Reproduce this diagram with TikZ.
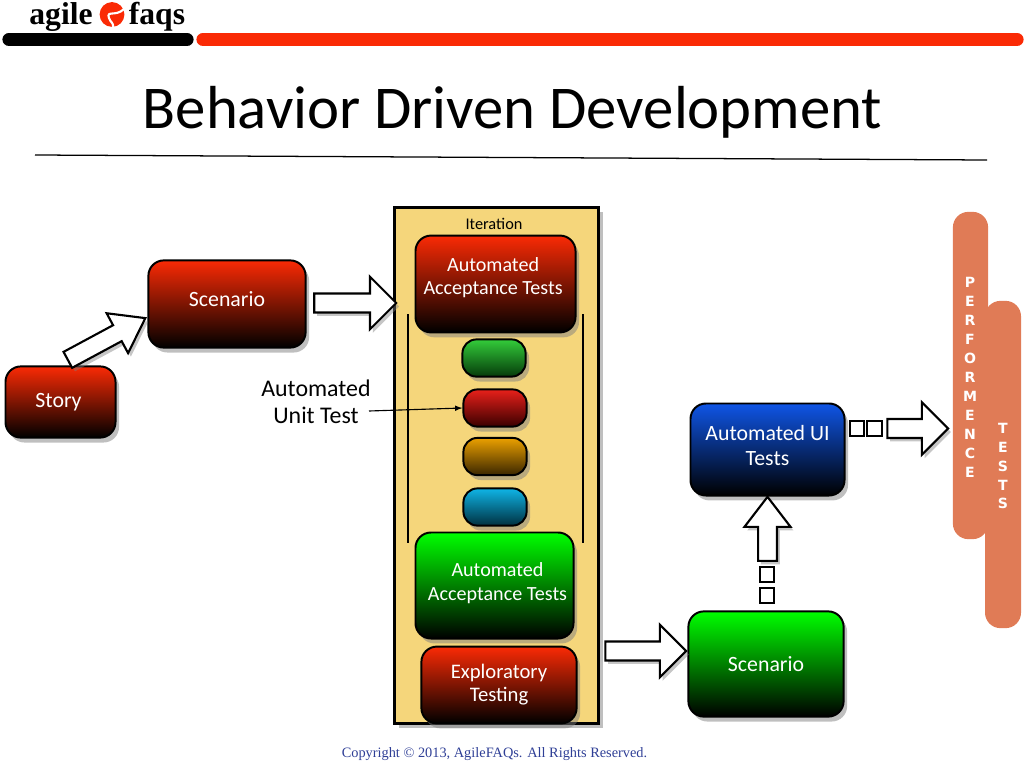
\documentclass[tikz,border=0pt]{standalone}
\usepackage{fontspec}
\setmainfont{Carlito}
\newfontfamily\copyfont{Liberation Serif}
\newfontfamily\logofont{Liberation Serif}
\newfontfamily\letterfont{DejaVu Sans}
\usetikzlibrary{positioning,shadows,shapes.arrows}

\definecolor{ironcolor}{HTML}{F5D67B}
\definecolor{pillarcolor}{HTML}{E07B56}
\definecolor{flagred}{HTML}{FA2A05}
\definecolor{copyblue}{HTML}{2F3F96}
\definecolor{uiblue}{HTML}{0F55E6}
\definecolor{pillgreentop}{HTML}{33CC3A}
\definecolor{pillgreenend}{HTML}{053A0A}
\definecolor{pillredtop}{HTML}{E8201A}
\definecolor{pillredend}{HTML}{3A0000}
\definecolor{pillorangetop}{HTML}{EBA000}
\definecolor{pillorangeend}{HTML}{3A2600}
\definecolor{pillbluetop}{HTML}{0FB4E6}
\definecolor{pillblueend}{HTML}{00303F}

\tikzset{
  slidebox/.style={draw=black,line width=1.4pt,rounded corners=11pt,text=white,align=center,
    font=\fontsize{15.5}{17.8}\selectfont,bottom color=black,
    drop shadow={opacity=.5,shadow xshift=2.5pt,shadow yshift=-3.5pt}},
  acceptbox/.style={slidebox,font=\fontsize{14.3}{16.4}\selectfont},
  pill/.style={slidebox,rounded corners=10pt,minimum width=1.58cm,minimum height=.93cm},
  bigarrow/.style={single arrow,draw=black,line width=1.5pt,fill=white,inner xsep=0pt,inner ysep=.21cm,
    single arrow head extend=.42cm,single arrow tip angle=90,
    drop shadow={opacity=.45,shadow xshift=2pt,shadow yshift=-2.5pt}},
  smallsq/.style={draw=black,line width=1.2pt,fill=white,minimum size=.36cm,inner sep=0pt},
  pillar/.style={fill=pillarcolor,rounded corners=11pt,inner sep=0pt},
  pillartext/.style={text=white,align=center,font=\letterfont\bfseries\fontsize{10}{13.5}\selectfont}
}

\begin{document}
\begin{tikzpicture}[x=.025cm,y=-.025cm]

  \useasboundingbox (0,0) rectangle (1024,768);

  % header
  \node[inner sep=0pt,font=\logofont\bfseries\fontsize{22.5}{24}\selectfont] (logoleft) at (61,17) {agile};
  \node[inner sep=0pt,font=\logofont\bfseries\fontsize{22.5}{24}\selectfont] (logoright) at (157,17) {faqs};
  \node[circle,fill=flagred,minimum size=.62cm,inner sep=0pt] (logomark) at (112,14.5) {};
  \draw[white,line width=1.5pt] (124,9) .. controls (116,17) and (106,10) .. (109,18) .. controls (110,22) and (114,23) .. (113,27);
  \draw[black,line width=.33cm,line cap=round] (9,39.5) -- (187,39.5);
  \draw[flagred,line width=.33cm,line cap=round] (203,39.5) -- (1017,39.5);
  \node[inner sep=0pt,font=\fontsize{43.2}{47}\selectfont] (title) at (512.5,112) {Behavior Driven Development};
  \draw[line width=.9pt] (35,155) -- (987,160);

  % iteration
  \node[draw=black,line width=1.6pt,fill=ironcolor,minimum width=5.1cm,minimum height=12.9cm,inner sep=0pt,
    drop shadow={opacity=.5,shadow xshift=3pt,shadow yshift=-3pt}] (iteration) at (496.5,465.5) {};
  \node[font=\fontsize{11.6}{13}\selectfont,inner sep=0pt] (iterationlabel) at (494,224) {Iteration};
  \coordinate (railla) at (408,314);
  \coordinate (raillb) at (408,543);
  \coordinate (railra) at (583,314);
  \coordinate (railrb) at (583,543);
  \draw[line width=.9pt] (railla) -- (raillb);
  \draw[line width=.9pt] (railra) -- (railrb);

  \node[acceptbox,top color=flagred,minimum width=4cm,minimum height=2.42cm,text depth=.38cm] (acceptred) at (495.5,284) {Automated\hspace*{.12cm}\\Acceptance Tests\hspace*{.12cm}};
  \node[pill,top color=pillgreentop,bottom color=pillgreenend] (pillgreen) at (494,358) {};
  \node[pill,top color=pillredtop,bottom color=pillredend] (pillred) at (495,408) {};
  \node[pill,top color=pillorangetop,bottom color=pillorangeend] (pillorange) at (495,456.5) {};
  \node[pill,top color=pillbluetop,bottom color=pillblueend] (pillblue) at (495,507) {};
  \node[acceptbox,top color=green,minimum width=3.95cm,minimum height=2.65cm,text depth=.2cm] (acceptgreen) at (494.5,585.5) {\hspace*{.15cm}Automated\\\hspace*{.15cm}Acceptance Tests};
  \node[acceptbox,top color=flagred,minimum width=3.88cm,minimum height=1.92cm,text depth=.1cm,font=\fontsize{14.7}{16.4}\selectfont] (explore) at (499,685) {Exploratory\\Testing};

  % outside boxes
  \node[slidebox,top color=flagred,minimum width=2.75cm,minimum height=1.78cm] (story) at (60.5,402) {Story\hspace*{.1cm}};
  \node[slidebox,top color=flagred,minimum width=3.93cm,minimum height=2.18cm,text depth=.27cm] (scenarioa) at (227,304) {Scenario};
  \node[slidebox,top color=green,minimum width=3.88cm,minimum height=2.63cm] (scenariob) at (766,664) {Scenario};
  \node[slidebox,top color=uiblue,minimum width=3.85cm,minimum height=2.3cm,text depth=.22cm] (uitests) at (767.5,449.5) {Automated UI\\Tests};

  % block arrows
  \node[bigarrow,minimum height=2.2cm,single arrow head extend=.34cm,inner ysep=.2cm,single arrow tip angle=71,rotate=28.3] (arrowa) at (101,342) {};
  \node[bigarrow,minimum height=2.05cm] (arrowb) at (350.5,303) {};
  \node[bigarrow,minimum height=2.02cm] (arrowc) at (641,651) {};
  \node[bigarrow,minimum height=1.6cm,single arrow head extend=.34cm,single arrow tip angle=75,rotate=90] (arrowd) at (767.5,535) {};
  \node[bigarrow,minimum height=1.52cm] (arrowe) at (913,428.5) {};

  \node[smallsq] (sqa) at (767,574.5) {};
  \node[smallsq] (sqb) at (767,595.5) {};
  \node[smallsq] (sqc) at (857,428.5) {};
  \node[smallsq] (sqd) at (874.5,428.5) {};

  % unit test label
  \node[font=\fontsize{17}{19.5}\selectfont,align=center,inner sep=0pt] (unitlabel) at (316,402) {Automated\\Unit Test};
  \coordinate (unitstart) at (369,411);
  \draw[-latex,line width=.8pt] (unitstart) -- (pillred.west);

  % pillars
  \node[pillar,minimum width=.9cm,minimum height=8.18cm] (teststack) at (1003,464.5) {};
  \node[pillar,minimum width=.88cm,minimum height=8.18cm] (perfstack) at (970.5,375.5) {};
  \node[pillartext] (perflabel) at (970,377) {P\\E\\R\\F\\O\\R\\M\\E\\N\\C\\E};
  \node[pillartext] (testlabel) at (1003,466) {T\\E\\S\\T\\S};

  % footer
  \node[inner sep=0pt,text=copyblue,font=\copyfont\fontsize{10.2}{12}\selectfont] (copyright) at (494.5,754) {Copyright © 2013, AgileFAQs. All Rights Reserved.};

\end{tikzpicture}
\end{document}
